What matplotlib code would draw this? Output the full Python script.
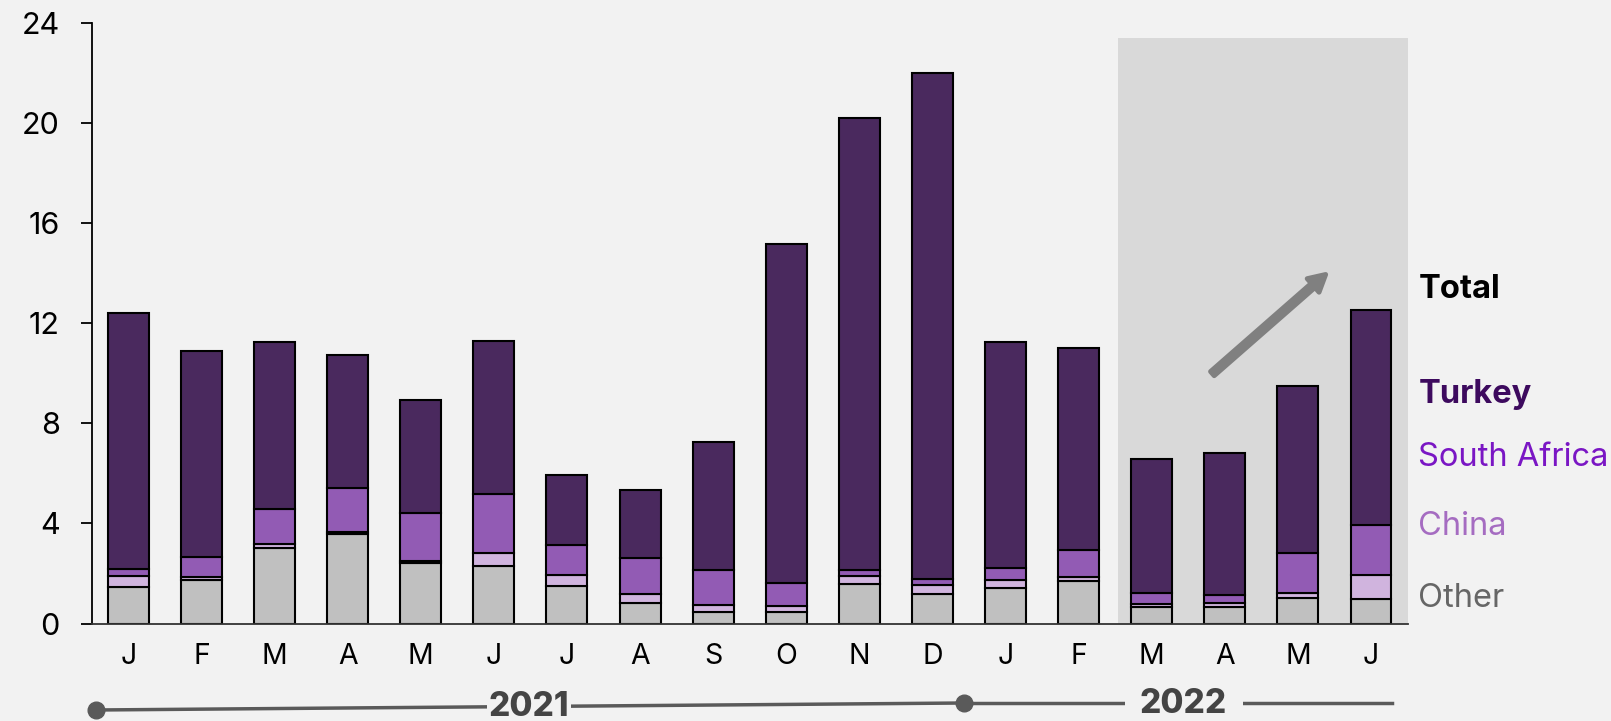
import matplotlib.pyplot as plt
import numpy as np

months = ['J', 'F', 'M', 'A', 'M', 'J', 'J', 'A', 'S', 'O', 'N', 'D',
          'J', 'F', 'M', 'A', 'M', 'J']
other = [1.45, 1.72, 3.01, 3.56, 2.41, 2.29, 1.49, 0.80, 0.46, 0.46, 1.57, 1.16,
         1.42, 1.69, 0.66, 0.66, 1.00, 0.96]
china = [0.44, 0.13, 0.18, 0.09, 0.08, 0.52, 0.46, 0.36, 0.28, 0.23, 0.32, 0.36,
         0.31, 0.15, 0.10, 0.14, 0.20, 0.98]
south_africa = [0.28, 0.82, 1.37, 1.75, 1.92, 2.36, 1.17, 1.46, 1.40, 0.93, 0.25, 0.25,
                0.48, 1.09, 0.44, 0.32, 1.63, 2.00]
turkey = [10.23, 8.23, 6.68, 5.31, 4.53, 6.11, 2.83, 2.71, 5.12, 13.52, 18.04, 20.22,
          9.03, 8.07, 5.36, 5.69, 6.65, 8.57]

series = [('Other', other, '#c0c0c0', '#666666', 'normal'),
          ('China', china, '#d0b4de', '#a56cc1', 'normal'),
          ('South Africa', south_africa, '#925bb4', '#7a16c4', 'normal'),
          ('Turkey', turkey, '#4a295e', '#3d0a5e', 'bold')]
label_y = {'Other': 0.98, 'China': 3.86, 'South Africa': 6.62, 'Turkey': 9.16}

bg = '#f2f2f2'
plt.rcParams['font.family'] = ['Inter', 'DejaVu Sans']

fig = plt.figure(figsize=(16.11, 7.21), dpi=100, facecolor=bg)
ax = fig.add_axes([0.057, 0.1352, 0.8167, 0.8335])
ax.set_facecolor(bg)

x = np.arange(len(months))
# shaded 2022 window
ax.axvspan(13.54, 17.5, ymin=0, ymax=23.4 / 24, color='#d9d9d9', zorder=0, lw=0)

bottom = np.zeros(len(months))
for name, vals, col, txtcol, weight in series:
    ax.bar(x, vals, width=0.56, bottom=bottom, color=col, edgecolor='black',
           linewidth=1.5, zorder=2)
    bottom += np.array(vals)
    ax.text(17.65, label_y[name], name, color=txtcol, fontsize=23.5,
            fontweight=weight, va='center', ha='left', clip_on=False)
ax.text(17.65, 13.34, 'Total', color='black', fontsize=23.5, fontweight='bold',
        va='center', ha='left', clip_on=False)

ax.annotate('', xy=(16.38, 13.94), xytext=(14.83, 9.98),
            arrowprops=dict(color='#808080', lw=3.5, headwidth=13, headlength=12,
                            shrink=0), zorder=3)

ax.set_xlim(-0.5, 17.5)
ax.set_ylim(0, 24)
ax.set_yticks(range(0, 25, 4))
ax.set_xticks(x)
ax.set_xticklabels(months)
ax.tick_params(axis='y', labelsize=22, length=8, width=1.3, pad=15, colors='black')
ax.tick_params(axis='x', labelsize=20.5, length=0, pad=14)
for s in ['top', 'right']:
    ax.spines[s].set_visible(False)
ax.spines['left'].set_linewidth(1.3)
ax.spines['bottom'].set_linewidth(1.3)
ax.spines['bottom'].set_color('#333333')

# year timeline below the months
W, H = 1611.0, 721.0
def fx(px):
    return px / W
def fy(py):
    return 1 - py / H

fig.add_artist(plt.Line2D([fx(95.5), fx(964)], [fy(710), fy(703)], color='#5a5a5a', lw=2.5))
fig.add_artist(plt.Line2D([fx(964), fx(1392)], [fy(703), fy(703)], color='#5a5a5a', lw=2.5))
fig.add_artist(plt.Line2D([fx(95.5)], [fy(710)], marker='o', ms=12, color='#5a5a5a'))
fig.add_artist(plt.Line2D([fx(964)], [fy(703)], marker='o', ms=12, color='#5a5a5a'))
fig.text(fx(529), fy(707), '2021', fontsize=24, fontweight='heavy', color='#444444',
         ha='center', va='center',
         bbox=dict(facecolor=bg, edgecolor='none', pad=1))
fig.text(fx(1183.6), fy(704), '2022', fontsize=24, fontweight='heavy', color='#444444',
         ha='center', va='center',
         bbox=dict(facecolor=bg, edgecolor='none', pad=11))

fig.savefig('out.png', dpi=100, facecolor=bg)
